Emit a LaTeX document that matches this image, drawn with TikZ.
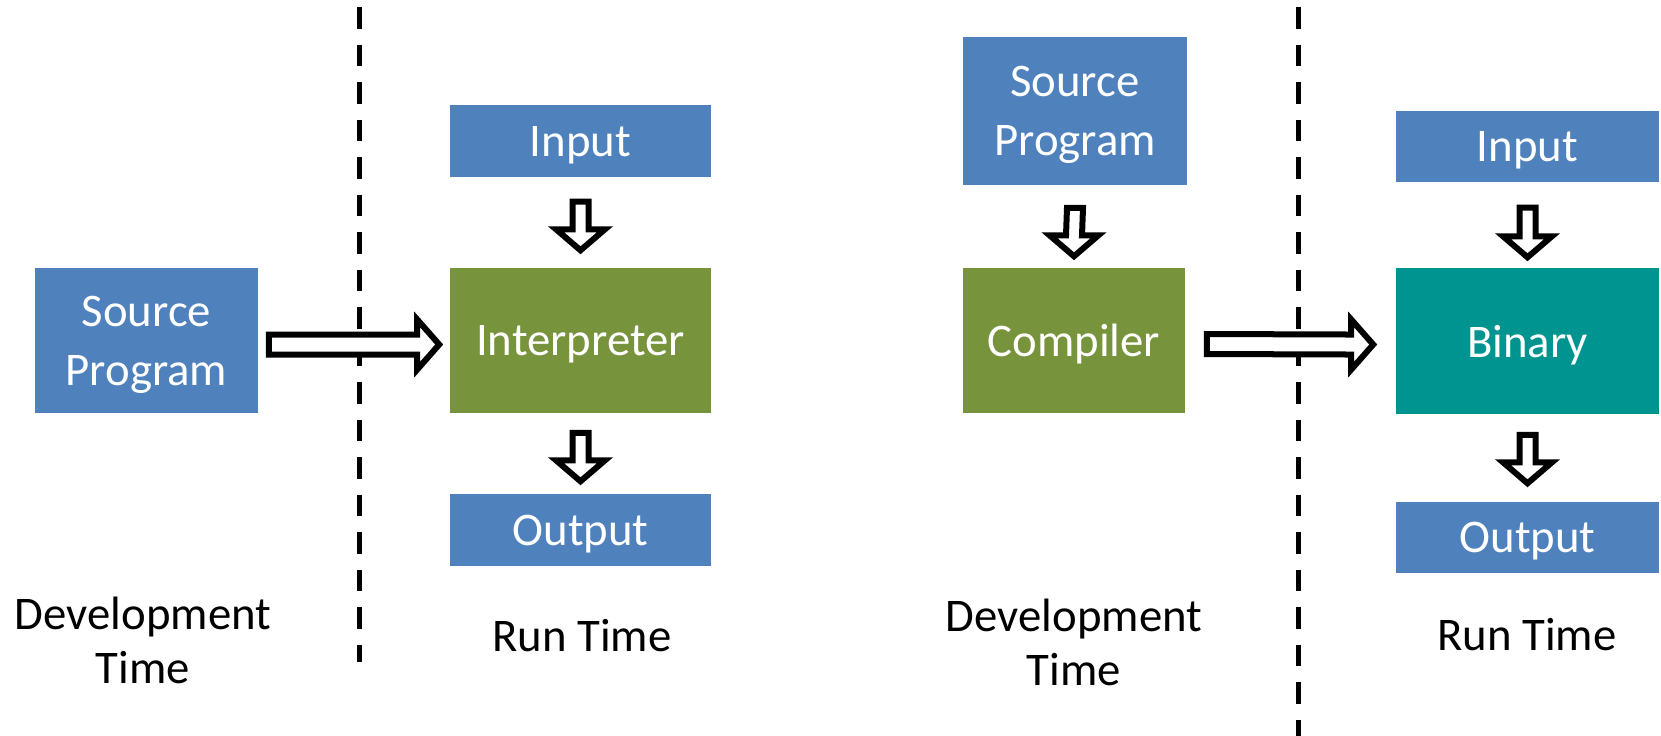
\documentclass[tikz,border=0pt]{standalone}
\usepackage{fontspec}
\setmainfont{Carlito}
\usetikzlibrary{calc}

\definecolor{boxblue}{RGB}{79,129,189}
\definecolor{boxgreen}{RGB}{119,147,60}
\definecolor{boxteal}{RGB}{0,148,144}

\tikzset{
  box/.style={inner sep=0pt, text=white, align=center, text depth=-1.6pt,
    font=\fontsize{13.3}{16.8}\selectfont},
  bluebox/.style={box, fill=boxblue},
  greenbox/.style={box, fill=boxgreen},
  tealbox/.style={box, fill=boxteal},
  hollow/.style={draw=black, line width=0.06cm, fill=white, line join=miter},
  divider/.style={line width=0.05cm, dash pattern=on 0.215cm off 0.16cm},
  caption/.style={font=\fontsize{13.3}{15.1}\selectfont, align=center,
    anchor=base, inner sep=0pt},
}

% hollow block arrow pointing right: tail point, tip point
\newcommand\rightblock[2]{%
  \draw[hollow] ([shift={(0,-10)}]#1) -- ([shift={(-22,-10)}]#2)
    -- ([shift={(-22,-25)}]#2) -- (#2) -- ([shift={(-22,25)}]#2)
    -- ([shift={(-22,10)}]#2) -- ([shift={(0,10)}]#1) -- cycle;}
% hollow block arrow pointing down: tail point, tip point
\newcommand\downblock[2]{%
  \draw[hollow] ([shift={(-8,0)}]#1) -- ([shift={(-8,-21)}]#2)
    -- ([shift={(-24.5,-21)}]#2) -- (#2) -- ([shift={(24.5,-21)}]#2)
    -- ([shift={(8,-21)}]#2) -- ([shift={(8,0)}]#1) -- cycle;}

\begin{document}
\begin{tikzpicture}[x=0.01cm, y=-0.01cm]
\useasboundingbox (0,0) rectangle (1661,735);

% ---- interpreter side ----
\node[bluebox, minimum width=2.23cm, minimum height=1.45cm] (srcL) at (146.5,340.5) {Source\\Program};
\node[bluebox, minimum width=2.61cm, minimum height=0.72cm] (inL) at (580.5,141) {Input};
\node[greenbox, minimum width=2.61cm, minimum height=1.45cm] (interp) at (580.5,340.5) {Interpreter};
\node[bluebox, minimum width=2.61cm, minimum height=0.72cm] (outL) at (580.5,530) {Output};

\coordinate (divLtop) at (359,7);
\coordinate (divLbot) at (359,662);
\draw[divider] (divLtop) -- (divLbot);

\coordinate (a1t) at ($(srcL.east)+(10,4)$);
\coordinate (a1h) at ($(interp.west)+(-10,4)$);
\rightblock{a1t}{a1h}
\coordinate (a2t) at ($(inL.south)+(0,24)$);
\coordinate (a2h) at ($(interp.north)+(0,-17)$);
\downblock{a2t}{a2h}
\coordinate (a3t) at ($(interp.south)+(0,19)$);
\coordinate (a3h) at ($(outL.north)+(0,-12)$);
\downblock{a3t}{a3h}

\node[caption] (devL) at (143,683) {Development\\Time};
\node[caption] (runL) at (582,651) {Run Time};

% ---- compiler side ----
\node[bluebox, minimum width=2.24cm, minimum height=1.48cm] (srcR) at (1075,111) {Source\\Program};
\node[greenbox, minimum width=2.22cm, minimum height=1.45cm] (comp) at (1074,340.5) {Compiler};
\node[bluebox, minimum width=2.63cm, minimum height=0.71cm] (inR) at (1527.5,146.5) {Input};
\node[tealbox, minimum width=2.63cm, minimum height=1.46cm] (bin) at (1527.5,341) {Binary};
\node[bluebox, minimum width=2.63cm, minimum height=0.71cm] (outR) at (1527.5,537.5) {Output};

\coordinate (divRtop) at (1298,7);
\coordinate (divRbot) at (1298,745);
\draw[divider] (divRtop) -- (divRbot);

\coordinate (b1t) at ($(srcR.south)+(0,22)$);
\coordinate (b1h) at ($(comp.north)+(0,-11)$);
\downblock{b1t}{b1h}
\coordinate (b2t) at ($(comp.east)+(21,3.5)$);
\coordinate (b2h) at ($(bin.west)+(-22,3.5)$);
\rightblock{b2t}{b2h}
\coordinate (b3t) at ($(inR.south)+(0,25)$);
\coordinate (b3h) at ($(bin.north)+(0,-10)$);
\downblock{b3t}{b3h}
\coordinate (b4t) at ($(bin.south)+(0,20)$);
\coordinate (b4h) at ($(outR.north)+(0,-18)$);
\downblock{b4t}{b4h}

\node[caption] (devR) at (1074,685) {Development\\Time};
\node[caption] (runR) at (1527,650) {Run Time};
\end{tikzpicture}
\end{document}
